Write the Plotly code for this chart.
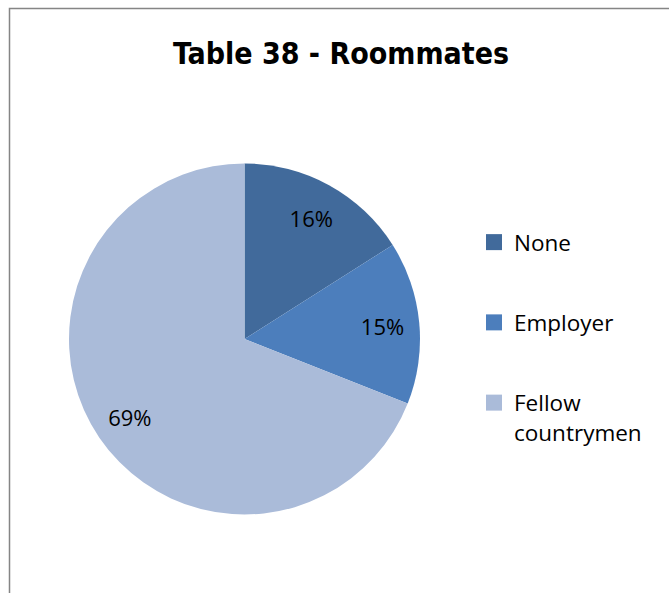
import plotly.graph_objects as go

# Roommate categories and their shares (%)
labels = ["None", "Employer", "Fellow countrymen"]
values = [16, 15, 69]
colors = ["#416A9B", "#4C7EBC", "#AABBD9"]

W, H = 669, 593
pie_domain = dict(x=[69 / W, 420 / W], y=[(H - 515) / H, (H - 163) / H])

fig = go.Figure()

# Filled pie
fig.add_trace(go.Pie(
    labels=labels,
    values=values,
    sort=False,
    direction="clockwise",
    rotation=0,
    marker=dict(colors=colors, line=dict(width=0)),
    textinfo="none",
    showlegend=False,
    hoverinfo="label+percent",
    domain=pie_domain,
))

# Transparent ring on top that carries the percentage labels toward the rim
fig.add_trace(go.Pie(
    labels=labels,
    values=values,
    sort=False,
    direction="clockwise",
    rotation=0,
    hole=0.58,
    marker=dict(colors=["rgba(0,0,0,0)"] * len(values), line=dict(width=0)),
    texttemplate="%{percent:.0%}",
    textposition="inside",
    insidetextorientation="horizontal",
    textfont=dict(family="Open Sans", size=22, color="#000000"),
    showlegend=False,
    hoverinfo="skip",
    domain=pie_domain,
))

# Legend entries, one group each so the items can be spaced apart
for i, (lab, col) in enumerate(zip(labels, colors)):
    fig.add_trace(go.Scatter(
        x=[None], y=[None],
        mode="markers",
        marker=dict(symbol="square", size=16, color=col),
        name=lab.replace(" ", "<br>"),
        legendgroup=f"g{i}",
        showlegend=True,
        hoverinfo="skip",
    ))

fig.update_layout(
    width=W, height=H,
    autosize=False,
    margin=dict(l=0, r=0, t=0, b=0),
    paper_bgcolor="white",
    plot_bgcolor="white",
    title=dict(
        text="Table 38 - Roommates",
        font=dict(family="DejaVu Sans Condensed, Liberation Sans", size=30,
                  color="#000000", weight="bold"),
        x=341 / W, xanchor="center",
        y=1 - 53 / H, yanchor="middle",
    ),
    xaxis=dict(visible=False),
    yaxis=dict(visible=False),
    legend=dict(
        x=474 / W, xanchor="left",
        y=1 - 221 / H, yanchor="top",
        font=dict(family="Open Sans", size=22.5, color="#000000"),
        tracegroupgap=48,
        valign="top",
        itemwidth=30,
        bgcolor="rgba(0,0,0,0)",
    ),
    shapes=[
        dict(type="rect", xref="paper", yref="paper",
             x0=9.5 / W, x1=1.02, y0=-0.02, y1=1 - 8.5 / H,
             line=dict(color="#858585", width=1.5), fillcolor="rgba(0,0,0,0)"),
    ],
)

fig.write_html("out.html")
